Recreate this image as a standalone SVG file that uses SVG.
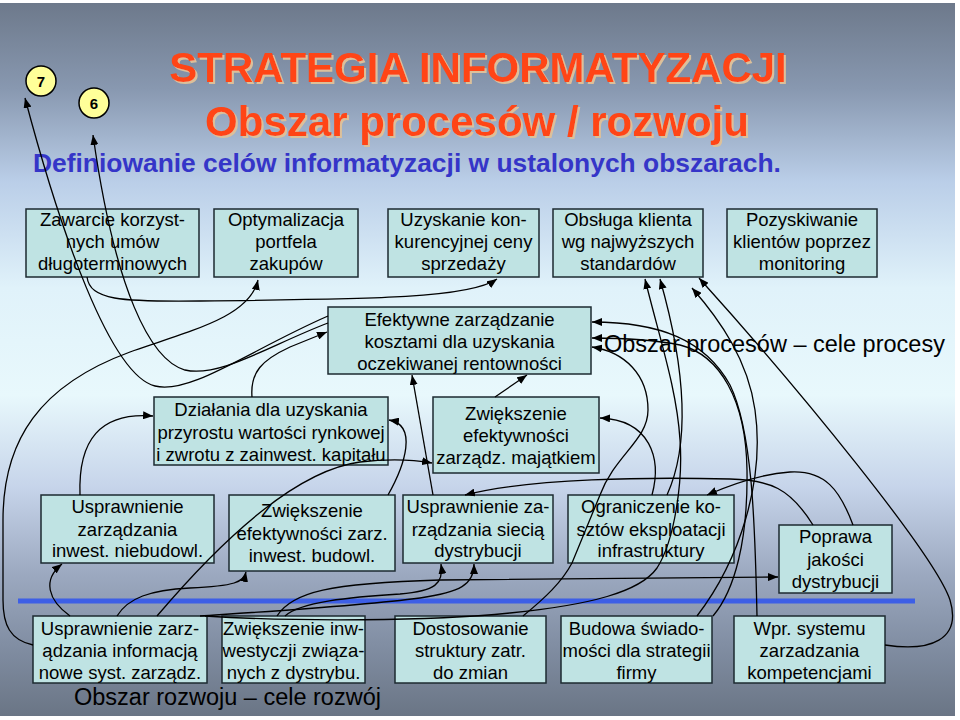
<svg xmlns="http://www.w3.org/2000/svg" width="960" height="720" viewBox="0 0 960 720">
<defs>
<linearGradient id="bg" x1="0" y1="0" x2="0" y2="1">
<stop offset="0" stop-color="#6d798b"/>
<stop offset="0.12" stop-color="#8898b0"/>
<stop offset="0.25" stop-color="#bacee8"/>
<stop offset="0.4" stop-color="#e0f2fa"/>
<stop offset="0.55" stop-color="#e8f8fc"/>
<stop offset="0.68" stop-color="#c6d4ea"/>
<stop offset="0.8" stop-color="#9ca9c0"/>
<stop offset="0.9" stop-color="#818ea3"/>
<stop offset="1" stop-color="#6a7585"/>
</linearGradient>
<filter id="sh" x="-5%" y="-20%" width="110%" height="140%">
<feFlood flood-color="#dcc09a" result="f"/>
<feComposite in="f" in2="SourceAlpha" operator="in" result="s"/>
<feOffset in="s" dx="2" dy="2" result="o"/>
<feMerge><feMergeNode in="o"/><feMergeNode in="SourceGraphic"/></feMerge>
</filter>
<marker id="ar" viewBox="0 0 10 8" refX="10" refY="4" markerWidth="10" markerHeight="8" markerUnits="userSpaceOnUse" orient="auto">
<path d="M0,0 L10,4 L0,8 z" fill="#000"/>
</marker>
<style>
.box{fill:#bfe3e3;stroke:#1c2a30;stroke-width:1.5}
.t{font-family:"Liberation Sans",Arial,sans-serif;font-size:18.5px;fill:#000;text-anchor:middle}
.c{fill:none;stroke:#000;stroke-width:1.3}
.a{marker-end:url(#ar)}
.badge{fill:#ffff99;stroke:#000;stroke-width:1.5}
.bt{font-family:"Liberation Sans",Arial,sans-serif;font-size:15px;font-weight:bold;text-anchor:middle}
.title{font-family:"Liberation Sans",Arial,sans-serif;font-size:42px;font-weight:bold;text-anchor:middle;fill:#ff4414;filter:url(#sh)}
.lbl{font-family:"Liberation Sans",Arial,sans-serif;font-size:23.5px;fill:#000}
</style>
</defs>
<rect x="0" y="0" width="960" height="720" fill="#ffffff"/>
<rect x="0" y="3" width="955" height="713" fill="url(#bg)"/>

<g id="badge7"><circle class="badge" cx="41" cy="81" r="15"/><text class="bt" x="41" y="86.5">7</text></g>
<g id="badge6"><circle class="badge" cx="94" cy="103" r="15"/><text class="bt" x="94" y="108.5">6</text></g>

<g id="title">
<text class="title" x="478" y="82">STRATEGIA INFORMATYZACJI</text>
<text class="title" x="477" y="136">Obszar procesów / rozwoju</text>
<text x="33" y="172" font-family="Liberation Sans, Arial, sans-serif" font-size="26.4" font-weight="bold" fill="#3535c8">Definiowanie celów informatyzacji w ustalonych obszarach.</text>
</g>

<g id="A"><rect class="box" x="26" y="209" width="173" height="68"/><text class="t" x="112.5" y="226">Zawarcie korzyst-</text><text class="t" x="112.5" y="248">nych umów</text><text class="t" x="112.5" y="270">długoterminowych</text></g>
<g id="B"><rect class="box" x="214" y="209" width="144" height="68"/><text class="t" x="286" y="226">Optymalizacja</text><text class="t" x="286" y="248">portfela</text><text class="t" x="286" y="270">zakupów</text></g>
<g id="C"><rect class="box" x="388" y="209" width="151" height="68"/><text class="t" x="463.5" y="226">Uzyskanie kon-</text><text class="t" x="463.5" y="248">kurencyjnej ceny</text><text class="t" x="463.5" y="270">sprzedaży</text></g>
<g id="D"><rect class="box" x="553" y="209" width="150" height="68"/><text class="t" x="628" y="226">Obsługa klienta</text><text class="t" x="628" y="248">wg najwyższych</text><text class="t" x="628" y="270">standardów</text></g>
<g id="E"><rect class="box" x="727" y="209" width="150" height="68"/><text class="t" x="802" y="226">Pozyskiwanie</text><text class="t" x="802" y="248">klientów poprzez</text><text class="t" x="802" y="270">monitoring</text></g>

<g id="F"><rect class="box" x="328" y="307" width="263" height="67"/><text class="t" x="459.5" y="326">Efektywne zarządzanie</text><text class="t" x="459.5" y="348">kosztami dla uzyskania</text><text class="t" x="459.5" y="370">oczekiwanej rentowności</text></g>
<text class="lbl" x="604" y="352">Obszar procesów – cele procesy</text>

<g id="G"><rect class="box" x="154" y="397" width="234" height="68"/><text class="t" x="271" y="416">Działania dla uzyskania</text><text class="t" x="271" y="438.5">przyrostu wartości rynkowej</text><text class="t" x="271" y="461">i zwrotu z zainwest. kapitału</text></g>
<g id="H"><rect class="box" x="433" y="397" width="166" height="76"/><text class="t" x="516" y="420">Zwiększenie</text><text class="t" x="516" y="442">efektywności</text><text class="t" x="516" y="464">zarządz. majątkiem</text></g>

<g id="I"><rect class="box" x="41" y="495" width="173" height="68"/><text class="t" x="127.5" y="513">Usprawnienie</text><text class="t" x="127.5" y="535.5">zarządzania</text><text class="t" x="127.5" y="557">inwest. niebudowl.</text></g>
<g id="J"><rect class="box" x="229" y="495" width="166" height="76"/><text class="t" x="312" y="517">Zwiększenie</text><text class="t" x="312" y="539.5">efektywności zarz.</text><text class="t" x="312" y="562">inwest. budowl.</text></g>
<g id="K"><rect class="box" x="403" y="495" width="150" height="68"/><text class="t" x="478" y="513">Usprawnienie za-</text><text class="t" x="478" y="535.5">rządzania siecią</text><text class="t" x="478" y="557">dystrybucji</text></g>
<g id="L"><rect class="box" x="568" y="495" width="166" height="68"/><text class="t" x="651" y="513">Ograniczenie ko-</text><text class="t" x="651" y="535.5">sztów eksploatacji</text><text class="t" x="651" y="557">infrastruktury</text></g>
<g id="M"><rect class="box" x="779" y="525" width="113" height="68"/><text class="t" x="835.5" y="543">Poprawa</text><text class="t" x="835.5" y="565.5">jakości</text><text class="t" x="835.5" y="588">dystrybucji</text></g>

<line x1="18" y1="601" x2="915" y2="601" stroke="#3d5fe6" stroke-width="5"/>

<g id="N"><rect class="box" x="33" y="616" width="174" height="67"/><text class="t" x="120" y="634.5">Usprawnienie zarz-</text><text class="t" x="120" y="657">ądzania informacją</text><text class="t" x="120" y="679">nowe syst. zarządz.</text></g>
<g id="O"><rect class="box" x="222" y="616" width="143" height="67"/><text class="t" x="293.5" y="634.5">Zwiększenie inw-</text><text class="t" x="293.5" y="657">westyczji związa-</text><text class="t" x="293.5" y="679">nych z dystrybu.</text></g>
<g id="P"><rect class="box" x="395" y="616" width="151" height="67"/><text class="t" x="470.5" y="634.5">Dostosowanie</text><text class="t" x="470.5" y="657">struktury zatr.</text><text class="t" x="470.5" y="679">do zmian</text></g>
<g id="Q"><rect class="box" x="561" y="616" width="151" height="67"/><text class="t" x="636.5" y="634.5">Budowa świado-</text><text class="t" x="636.5" y="657">mości dla strategii</text><text class="t" x="636.5" y="679">firmy</text></g>
<g id="R"><rect class="box" x="734" y="616" width="151" height="67"/><text class="t" x="809.5" y="634.5">Wpr. systemu</text><text class="t" x="809.5" y="657">zarzadzania</text><text class="t" x="809.5" y="679">kompetencjami</text></g>
<text class="lbl" x="74" y="705">Obszar rozwoju – cele rozwój</text>

<g id="connectors">
<path class="c a" d="M328,316 C250,350 190,395 155,386 C110,375 60,230 25,98"/>
<path class="c a" d="M328,323 C270,345 220,378 185,370 C150,360 115,290 93,135"/>
<path class="c a" d="M87,277 C90,300 120,302 200,301 C380,299 470,298 497,279"/>
<path class="c a" d="M33,645 C10,640 3,625 3,600 L3,520 C3,440 40,385 130,352 C200,328 250,315 258,280"/>
<path class="c a" d="M252,397 C250,372 262,360 290,347 L327,332"/>
<path class="c a" d="M80,495 C78,440 100,412 153,416"/>
<path class="c a" d="M388,495 C405,465 418,425 389,420"/>
<path class="c a" d="M433,495 L412,375"/>
<path class="c a" d="M495,397 L527,375"/>
<path class="c a" d="M70,616 C48,600 42,580 62,564"/>
<path class="c a" d="M117,616 C128,598 150,590 190,588 C235,586 244,582 246,572"/>
<path class="c a" d="M157,616 C230,530 300,470 360,462 C395,458 415,460 432,463"/>
<path class="c a" d="M205,616 C300,622 430,621 510,613 C590,605 640,592 657,568 C675,540 683,480 680,440 C677,390 660,340 645,279"/>
<path class="c a" d="M200,616 C260,612 360,606 420,598 C460,592 474,585 474,564"/>
<path class="c a" d="M285,616 C300,602 350,597 400,594 C435,591 444,584 441,564"/>
<path class="c a" d="M277,616 C292,592 330,583 440,580 L778,577"/>
<path class="c a" d="M813,525 C790,488 770,480 730,479 C650,477 530,478 465,495"/>
<path class="c a" d="M853,525 C840,490 825,470 790,472 C760,474 730,485 707,495"/>
<path class="c a" d="M652,495 C662,458 650,420 600,418"/>
<path class="c a" d="M667,495 C692,440 683,360 660,279"/>
<path class="c a" d="M523,616 C545,598 562,582 572,563 L600,495 C615,455 648,440 648,410 C648,375 625,352 592,347"/>
<path class="c a" d="M713,616 C735,590 748,540 747,470 C746,400 720,355 680,345 C650,339 620,338 592,338"/>
<path class="c a" d="M697,616 C740,560 765,480 755,410 C748,360 720,320 692,288"/>
<path class="c a" d="M757,616 C755,520 752,430 730,385 C705,340 660,322 592,322"/>
<path class="c a" d="M885,645 C930,652 962,640 950,600 C935,555 800,390 699,278"/>
</g>
</svg>
